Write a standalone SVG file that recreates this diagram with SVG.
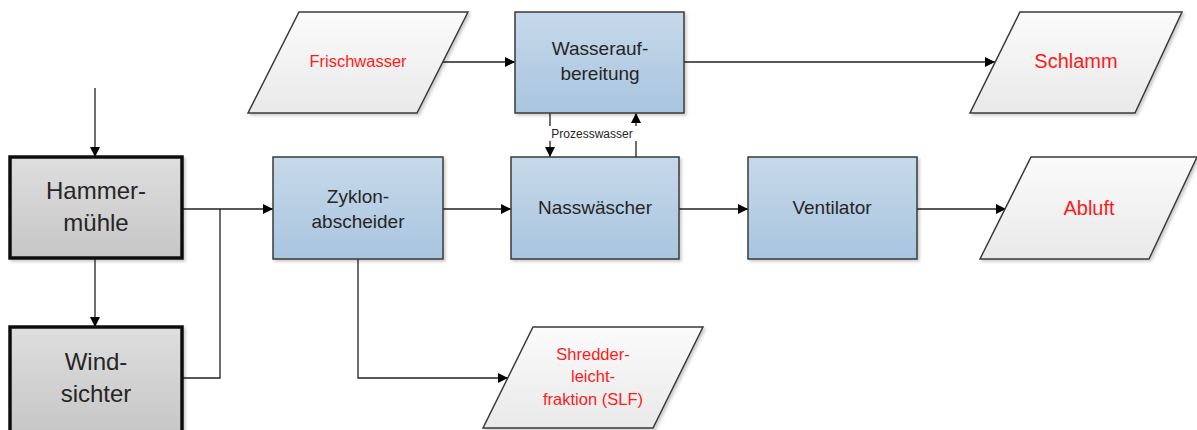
<svg xmlns="http://www.w3.org/2000/svg" width="1197" height="430" viewBox="0 0 1197 430">
<defs>
<linearGradient id="gBlue" x1="0" y1="0" x2="0" y2="1"><stop offset="0" stop-color="#c6d9ea"/><stop offset="1" stop-color="#a9c5df"/></linearGradient>
<linearGradient id="gGray" x1="0" y1="0" x2="0" y2="1"><stop offset="0" stop-color="#dedede"/><stop offset="1" stop-color="#c6c6c6"/></linearGradient>
<linearGradient id="gWhite" x1="0" y1="0" x2="0" y2="1"><stop offset="0" stop-color="#fbfbfb"/><stop offset="1" stop-color="#e9e9e9"/></linearGradient>
<filter id="sh" x="-5%" y="-5%" width="115%" height="120%"><feDropShadow dx="2" dy="2" stdDeviation="1.5" flood-color="#000" flood-opacity="0.2"/></filter>
<marker id="arr" viewBox="0 0 10 10" refX="10" refY="5" markerWidth="10" markerHeight="10" markerUnits="userSpaceOnUse" orient="auto"><path d="M0,0 L10,5 L0,10 z" fill="#000"/></marker>
</defs>
<style>
.blue{fill:url(#gBlue);stroke:#3a3a3a;stroke-width:1.5;filter:url(#sh)}
.gray{fill:url(#gGray);stroke:#111;stroke-width:3.5;filter:url(#sh)}
.para{fill:url(#gWhite);stroke:#3a3a3a;stroke-width:1.5;filter:url(#sh)}
.t{font-family:"Liberation Sans",Arial,sans-serif;fill:#262626;text-anchor:middle}
.r{font-family:"Liberation Sans",Arial,sans-serif;fill:#ff1a1a;text-anchor:middle}
.c{fill:none;stroke:#222;stroke-width:1.3}
.ca{fill:none;stroke:#222;stroke-width:1.3;marker-end:url(#arr)}
</style>
<g id="connectors">
<path class="ca" d="M95,88 V157"/>
<path class="ca" d="M95,259 V327"/>
<path class="ca" d="M183,209 H273"/>
<path class="c" d="M183,378 H220 V209"/>
<path class="ca" d="M443,209 H511"/>
<path class="ca" d="M679,209 H748"/>
<path class="ca" d="M917,209 H1006"/>
<path class="ca" d="M358,259 V378 H508"/>
<path class="ca" d="M443,62 H515"/>
<path class="ca" d="M684,62 H995"/>
<path class="ca" d="M550,113 V157"/>
<path class="ca" d="M636,157 V113"/>
<g id="label-prozesswasser">
<rect x="546" y="126" width="92" height="15" fill="#fff"/>
<text class="t" x="592" y="138" font-size="12">Prozesswasser</text>
</g>
</g>
<g id="hammermuehle">
<rect class="gray" x="10" y="157" width="172" height="101"/>
<text class="t" x="96" y="199" font-size="24">Hammer-</text>
<text class="t" x="96" y="231" font-size="24">mühle</text>
</g>
<g id="windsichter">
<rect class="gray" x="10" y="327" width="172" height="110"/>
<text class="t" x="96" y="370" font-size="24">Wind-</text>
<text class="t" x="96" y="402" font-size="24">sichter</text>
</g>
<g id="zyklon">
<rect class="blue" x="273" y="157" width="170" height="102"/>
<text class="t" x="358" y="203" font-size="19">Zyklon-</text>
<text class="t" x="358" y="228" font-size="19">abscheider</text>
</g>
<g id="nasswaescher">
<rect class="blue" x="511" y="157" width="168" height="102"/>
<text class="t" x="595" y="214" font-size="19">Nasswäscher</text>
</g>
<g id="ventilator">
<rect class="blue" x="748" y="157" width="169" height="102"/>
<text class="t" x="832" y="214" font-size="19">Ventilator</text>
</g>
<g id="wasseraufbereitung">
<rect class="blue" x="515" y="12" width="169" height="101"/>
<text class="t" x="600" y="55" font-size="19">Wasserauf-</text>
<text class="t" x="600" y="80" font-size="19">bereitung</text>
</g>
<g id="frischwasser">
<polygon class="para" points="299,12 468,12 417,113 248,113"/>
<text class="r" x="358" y="67" font-size="16.5">Frischwasser</text>
</g>
<g id="schlamm">
<polygon class="para" points="1020,12 1182,12 1135,113 970,113"/>
<text class="r" x="1076" y="68" font-size="20">Schlamm</text>
</g>
<g id="abluft">
<polygon class="para" points="1031,157 1197,157 1149,259 980,259"/>
<text class="r" x="1089" y="215" font-size="20">Abluft</text>
</g>
<g id="slf">
<polygon class="para" points="533,327 703,327 653,428 483,428"/>
<text class="r" x="593" y="360" font-size="16.5">Shredder-</text>
<text class="r" x="593" y="382" font-size="16.5">leicht-</text>
<text class="r" x="593" y="405" font-size="16.5">fraktion (SLF)</text>
</g>
</svg>
